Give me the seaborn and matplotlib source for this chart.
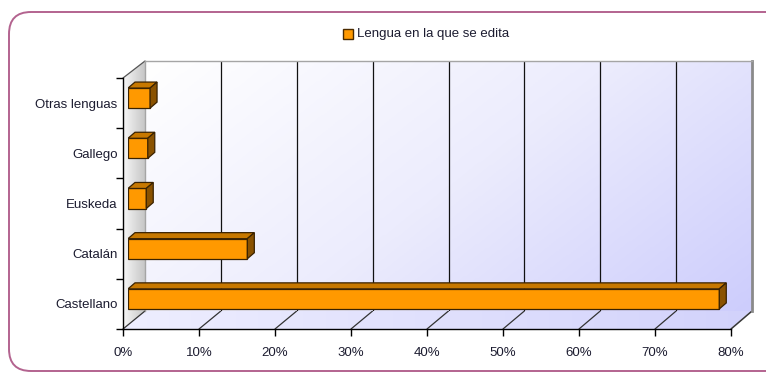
import numpy as np
import pandas as pd
import matplotlib
matplotlib.use("Agg")
import matplotlib.pyplot as plt
from matplotlib.patches import Polygon, FancyBboxPatch, Rectangle
from matplotlib.colors import LinearSegmentedColormap
import seaborn as sns

# Data: share of titles by language of publication (%)
categories = ["Otras lenguas", "Gallego", "Euskeda", "Catalán", "Castellano"]
shares = [2.9, 2.6, 2.4, 15.7, 77.8]
series_name = "Lengua en la que se edita"
x_ticks = [0, 10, 20, 30, 40, 50, 60, 70, 80]
x_tick_labels = [f"{t}%" for t in x_ticks]

sns.set_theme(style="white")
plt.rcParams["font.family"] = ["Liberation Sans Narrow", "Liberation Sans", "DejaVu Sans"]

W, H = 766, 373
fig = plt.figure(figsize=(W / 100, H / 100), dpi=100)
fig.patch.set_facecolor("white")

TEXT = "#1c1c30"
XMAX = 80


def box(l, t, r, b):
    """Axes rectangle in figure fraction from a pixel box (origin top-left)."""
    return [l / W, 1 - b / H, (r - l) / W, (b - t) / H]


# Planes of the pseudo-3D plot area (pixel boxes)
FRONT = (123, 78, 731, 329)
BACK = (145, 61, 752, 311)
BARPL = (128, 73, 736, 324)

# ---- decoration layer (frame, floor, side wall) in pixel coordinates ----
deco = fig.add_axes([0, 0, 1, 1], zorder=0)
deco.set_xlim(0, W)
deco.set_ylim(H, 0)
deco.axis("off")

frame = FancyBboxPatch((9, 12), W + 20, 359, boxstyle="round,pad=0,rounding_size=22",
                       fc="white", ec="#b3638f", lw=1.4)
deco.add_patch(frame)


def gradient_fill(ax, poly_pts, c0, c1, direction="h"):
    cmap = LinearSegmentedColormap.from_list("g", [c0, c1])
    xs = [p[0] for p in poly_pts]
    ys = [p[1] for p in poly_pts]
    grad = np.linspace(0, 1, 256)
    if direction == "h":
        img = np.tile(grad, (2, 1))
    elif direction == "v":
        img = np.tile(grad[:, None], (1, 2))
    else:
        gx, gy = np.meshgrid(grad, grad)
        img = (gx + gy) / 2
    im = ax.imshow(img, cmap=cmap, extent=(min(xs), max(xs), max(ys), min(ys)),
                   origin="upper", aspect="auto", interpolation="bilinear", zorder=1)
    patch = Polygon(poly_pts, closed=True, fc="none", ec="none", transform=ax.transData)
    ax.add_patch(patch)
    im.set_clip_path(patch)
    return im


fl, ft, fr, fb = FRONT
bl, bt, br, bb = BACK

# floor
floor_pts = [(fl, fb), (fr, fb), (br, bb), (bl, bb)]
gradient_fill(deco, floor_pts, "#eeeeff", "#d2d2fb", "h")
deco.plot([fr, br], [fb, bb], color="#9a9a9a", lw=1.2, zorder=3)

# left wall
wall_pts = [(fl, ft), (bl, bt), (bl, bb), (fl, fb)]
gradient_fill(deco, wall_pts, "#f7f7f7", "#c6c6c6", "h")
deco.plot([fl, bl], [ft, bt], color="#555555", lw=0.9, zorder=3)

# floor lines joining front ticks to back gridlines
for t in x_ticks:
    xf = fl + t * (fr - fl) / XMAX
    xb = bl + t * (br - bl) / XMAX
    deco.plot([xf, xb], [fb, bb], color="#333333", lw=0.9, zorder=3)

# legend
deco.add_patch(Rectangle((343, 29), 10, 10, fc="#ff9900", ec="#4a2a00", lw=1.0, zorder=3))
deco.text(357, 34, series_name, fontsize=9.5, color=TEXT, va="center", ha="left", zorder=3)

# ---- back wall ----
back = fig.add_axes(box(*BACK), zorder=1)
back.set_xlim(0, XMAX)
back.set_ylim(0, 1)
gx, gy = np.meshgrid(np.linspace(0, 1, 256), np.linspace(0, 1, 128))
bg = LinearSegmentedColormap.from_list("bw", ["#ffffff", "#ececfd", "#cdcdfc"])
back.imshow(0.65 * gx + 0.35 * (1 - gy), cmap=bg, extent=(0, XMAX, 0, 1),
            aspect="auto", origin="lower", interpolation="bilinear", zorder=0)
for t in x_ticks[1:-1]:
    back.axvline(t, color="#111111", lw=0.9, zorder=1)
back.set_xticks([])
back.set_yticks([])
for side, sp in back.spines.items():
    sp.set_color("#a5a5a5")
    sp.set_linewidth(1.0)
back.spines["right"].set_color("#8a8a8a")
back.spines["right"].set_linewidth(2.0)
back.spines["bottom"].set_visible(False)

# ---- front plane: axes lines, ticks and labels ----
front = fig.add_axes(box(*FRONT), zorder=2)
front.patch.set_alpha(0)
front.set_xlim(0, XMAX)
front.set_ylim(len(categories) - 0.5, -0.5)
front.set_xticks(x_ticks)
front.set_xticklabels(x_tick_labels, fontsize=9.5, color=TEXT)
front.set_yticks(np.arange(len(categories) + 1) - 0.5)
front.set_yticklabels([])
front.set_yticks(np.arange(len(categories)), minor=True)
front.set_yticklabels(categories, minor=True, fontsize=9.5, color=TEXT)
front.tick_params(axis="x", which="major", direction="out", length=5, width=1,
                  color="black", pad=8, bottom=True)
front.tick_params(axis="y", which="major", direction="out", length=5, width=1,
                  color="black", left=True)
front.tick_params(axis="y", which="minor", length=0, pad=4)
for side in ("top", "right"):
    front.spines[side].set_visible(False)
for side in ("left", "bottom"):
    front.spines[side].set_color("black")
    front.spines[side].set_linewidth(1.0)
front.grid(False)

# ---- bars on the middle depth plane ----
ax = fig.add_axes(box(*BARPL), zorder=3)
ax.patch.set_alpha(0)
df = pd.DataFrame({"lengua": categories, "pct": shares})
sns.barplot(data=df, x="pct", y="lengua", order=categories, orient="h", width=0.4,
            color="#ff9900", saturation=1, edgecolor="#3a2200", linewidth=0.9, ax=ax)
ax.set_xlim(0, XMAX)
ax.set_ylim(len(categories) - 0.5, -0.5)
ax.axis("off")

# depth of each bar: 7 px right, 6 px up
l, t, r, b = BARPL
dx = 7 * XMAX / (r - l)
dy = 6 * len(categories) / (b - t)
for p in list(ax.patches):
    x0, y0 = p.get_x(), p.get_y()
    w, h = p.get_width(), p.get_height()
    x1 = x0 + w
    ytop = min(y0, y0 + h)
    ybot = max(y0, y0 + h)
    top = Polygon([(x0, ytop), (x1, ytop), (x1 + dx, ytop - dy), (x0 + dx, ytop - dy)],
                  closed=True, fc="#c77800", ec="#3a2200", lw=0.9, zorder=p.get_zorder())
    side = Polygon([(x1, ytop), (x1 + dx, ytop - dy), (x1 + dx, ybot - dy), (x1, ybot)],
                   closed=True, fc="#8a5200", ec="#3a2200", lw=0.9, zorder=p.get_zorder())
    ax.add_patch(top)
    ax.add_patch(side)

fig.savefig("out.png", dpi=100)
